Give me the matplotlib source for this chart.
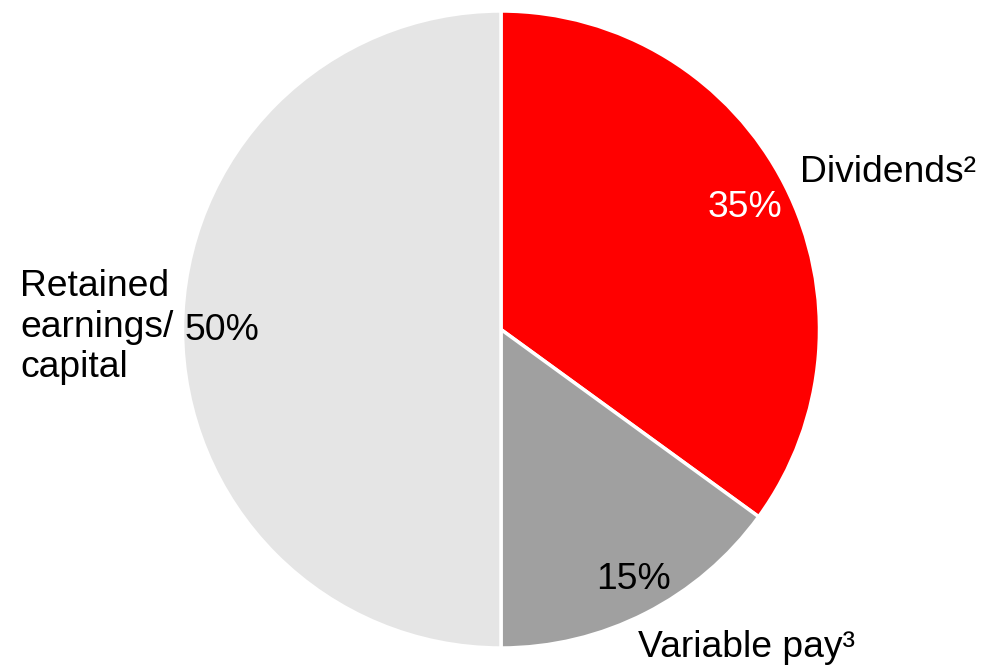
import matplotlib.pyplot as plt

plt.rcParams['font.family'] = ['Liberation Sans', 'DejaVu Sans']

labels = ['Dividends²', 'Variable pay³', 'Retained\nearnings/\ncapital']
shares = [35, 15, 50]
colors = ['#FF0000', '#A0A0A0', '#E5E5E5']
pct_colors = ['white', 'black', 'black']

# text anchors in pie units: outer labels (left edge, last baseline),
# percentages (centre, baseline)
label_pos = [(0.939, 0.463), (0.430, -1.028), (-1.510, -0.149)]
pct_pos = [(0.766, 0.353), (0.416, -0.815), (-0.876, -0.033)]

fig = plt.figure(figsize=(9.83, 6.69), dpi=100)
ax = fig.add_axes([182.5 / 983, 21 / 669, 637 / 983, 637 / 669])

wedges, autotexts = ax.pie(
    shares,
    colors=colors,
    startangle=90,
    counterclock=False,
    autopct=lambda p: f'{p:.0f}%',
    wedgeprops=dict(edgecolor='white', linewidth=2.5),
    textprops=dict(fontsize=26.8),
)[0::2]

for t, c, xy in zip(autotexts, pct_colors, pct_pos):
    t.set_color(c)
    t.set_position(xy)
    t.set_va('baseline')

for lab, (x, y) in zip(labels, label_pos):
    ax.text(x, y, lab, fontsize=26.8, ha='left', va='baseline',
            multialignment='left', linespacing=1.2)

ax.set_xlim(-1, 1)
ax.set_ylim(-1, 1)

plt.savefig('out.png', dpi=100)
